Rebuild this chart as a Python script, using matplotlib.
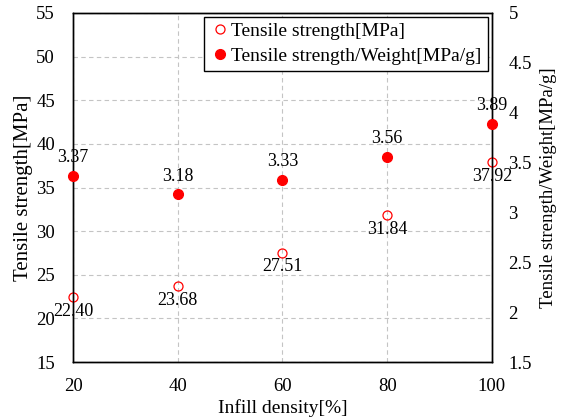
import matplotlib
matplotlib.use("Agg")
import matplotlib.pyplot as plt

infill = [20, 40, 60, 80, 100]
strength = [22.40, 23.68, 27.51, 31.84, 37.92]
ratio = [3.37, 3.18, 3.33, 3.56, 3.89]
strength_labels = ["22.40", "23.68", "27.51", "31.84", "37.92"]
ratio_labels = ["3.37", "3.18", "3.33", "3.56", "3.89"]
x_ticks = [20, 40, 60, 80, 100]
left_ticks = [15, 20, 25, 30, 35, 40, 45, 50, 55]
right_ticks = [1.5, 2, 2.5, 3, 3.5, 4, 4.5, 5]
right_tick_labels = ["1.5", "2", "2.5", "3", "3.5", "4", "4.5", "5"]

plt.rcParams['font.family'] = ['Liberation Serif', 'DejaVu Serif']

fig = plt.figure(figsize=(5.66, 4.19), dpi=100)
ax = fig.add_axes([0.129, 0.136, 0.740, 0.833])
ax2 = ax.twinx()

ax.set_xlim(20, 100)
ax.set_ylim(15, 55)
ax2.set_ylim(1.5, 5)
ax.set_xticks(x_ticks)
ax.set_yticks(left_ticks)
ax2.set_yticks(right_ticks)
ax2.set_yticklabels(right_tick_labels)

ax.grid(True, linestyle=(0, (4, 3)), color='#c4c4c4', linewidth=0.8)
ax.set_axisbelow(True)
ax.tick_params(axis='x', length=0, pad=11.5, labelsize=13.5)
ax.tick_params(axis='y', length=0, pad=13, labelsize=13.5)
ax2.tick_params(length=0, pad=12, labelsize=13.5)

for a in (ax, ax2):
    for s in a.spines.values():
        s.set_linewidth(1.0)
        s.set_color('black')

h1, = ax.plot(infill, strength, linestyle='none', marker='o', markersize=6.5,
              markerfacecolor='none', markeredgecolor='red', markeredgewidth=0.9,
              clip_on=False, zorder=5)
h2, = ax2.plot(infill, ratio, linestyle='none', marker='o', markersize=7,
               color='red', clip_on=False, zorder=5)

for x, y, t in zip(infill, strength, strength_labels):
    ax.annotate(t, (x, y), xytext=(0, -4), textcoords='offset points',
                ha='center', va='top', fontsize=13)
for x, y, t in zip(infill, ratio, ratio_labels):
    ax2.annotate(t, (x, y), xytext=(0, 7), textcoords='offset points',
                 ha='center', va='bottom', fontsize=13)

ax.set_xlabel("Infill density[%]", labelpad=3, fontsize=14)
ax.set_ylabel("Tensile strength[MPa]", labelpad=2, fontsize=15)
ax2.set_ylabel("Tensile strength/Weight[MPa/g]", labelpad=6, fontsize=13.5)

leg = ax2.legend([h1, h2], ["Tensile strength[MPa]", "Tensile strength/Weight[MPa/g]"],
                 loc='upper right', bbox_to_anchor=(0.990, 0.989), borderaxespad=0,
                 fancybox=False, framealpha=1, edgecolor='black', fontsize=14,
                 handletextpad=0.1, handlelength=1.0, borderpad=0.3,
                 labelspacing=0.35)
leg.get_frame().set_linewidth(1.0)

fig.savefig("out.png", dpi=100)
